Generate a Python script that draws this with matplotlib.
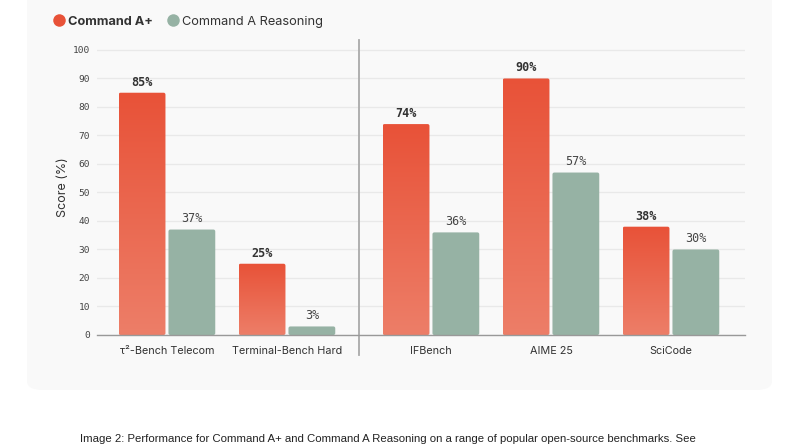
import numpy as np
import matplotlib.pyplot as plt
from matplotlib.patches import FancyBboxPatch
from matplotlib.lines import Line2D

categories = ['τ²-Bench Telecom', 'Terminal-Bench Hard', 'IFBench', 'AIME 25', 'SciCode']
command_a_plus = [85, 25, 74, 90, 38]
command_a_reasoning = [37, 3, 36, 57, 30]
series_names = ['Command A+', 'Command A Reasoning']
y_ticks = [0, 10, 20, 30, 40, 50, 60, 70, 80, 90, 100]

# second block of benchmarks sits a bit further right, past the divider
positions = [0, 1, 2.2, 3.2, 4.2]
divider_x = 1.6

RED_TOP = np.array([232, 82, 56]) / 255
RED_BOTTOM = np.array([237, 126, 104]) / 255
GREEN = '#96b2a4'
CARD = '#f9f9f9'

plt.rcParams['font.family'] = ['Inter', 'DejaVu Sans']

fig = plt.figure(figsize=(8, 4.45), dpi=100)
fig.patch.set_facecolor('white')

# light card behind the chart
card = FancyBboxPatch((27 / 800, 55 / 445), 745 / 800, 420 / 445,
                      boxstyle='round,pad=0,rounding_size=0.02',
                      transform=fig.transFigure, facecolor=CARD, edgecolor='none', zorder=-5)
fig.patches.append(card)

ax = fig.add_axes([97 / 800, 110 / 445, 648 / 800, 295 / 445])
ax.set_facecolor(CARD)
ax.set_xlim(-0.583, 4.817)
ax.set_ylim(0, 103.5)

bar_w = 0.39
gap = 0.0125
grad = np.linspace(0, 1, 256)[:, None, None]
grad_img = RED_BOTTOM * (1 - grad) + RED_TOP * grad

for x, a, b in zip(positions, command_a_plus, command_a_reasoning):
    # red bar with vertical gradient
    x0 = x - bar_w - gap
    p = FancyBboxPatch((x0, 0), bar_w, a, boxstyle='round,pad=0,rounding_size=0.015',
                       mutation_aspect=45, facecolor='none', edgecolor='none', zorder=3)
    ax.add_patch(p)
    im = ax.imshow(grad_img, extent=[x0, x0 + bar_w, 0, a], origin='lower',
                   aspect='auto', zorder=3)
    im.set_clip_path(p)
    ax.annotate(f'{a}%', (x - bar_w / 2 - gap, a), xytext=(0, 3), textcoords='offset points',
                ha='center', va='bottom', fontsize=8.5, fontweight='bold',
                family='DejaVu Sans Mono', color='#333333')

    x1 = x + gap
    g = FancyBboxPatch((x1, 0), bar_w, b, boxstyle='round,pad=0,rounding_size=0.015',
                       mutation_aspect=45, facecolor=GREEN, edgecolor='none', zorder=3)
    ax.add_patch(g)
    ax.annotate(f'{b}%', (x + bar_w / 2 + gap, b), xytext=(0, 3), textcoords='offset points',
                ha='center', va='bottom', fontsize=8.5, family='DejaVu Sans Mono',
                color='#444444')

ax.set_xticks(positions)
ax.set_xticklabels(categories, fontsize=7.8, color='#333333')
ax.set_yticks(y_ticks)
ax.set_yticklabels([str(t) for t in y_ticks], fontsize=6.8, family='DejaVu Sans Mono',
                   color='#444444')
ax.tick_params(axis='both', length=0, pad=8)
ax.tick_params(axis='y', pad=5)
ax.grid(axis='y', color='#e9e9e9', linewidth=0.9, zorder=0)
ax.set_axisbelow(True)
for s in ['top', 'right', 'left']:
    ax.spines[s].set_visible(False)
ax.spines['bottom'].set_color('#999999')
ax.spines['bottom'].set_linewidth(1)
ax.spines['bottom'].set_zorder(4)

ax.plot([divider_x, divider_x], [-7, 103.5], color='#aaaaaa', linewidth=1.3,
        clip_on=False, zorder=2)

ax.set_ylabel('Score (%)', fontsize=9, color='#333333', labelpad=3)

handles = [Line2D([], [], marker='o', linestyle='none', markersize=9,
                  markerfacecolor=RED_TOP, markeredgecolor='none'),
           Line2D([], [], marker='o', linestyle='none', markersize=9,
                  markerfacecolor=GREEN, markeredgecolor='none')]
leg = fig.legend(handles, series_names, loc='upper left', bbox_to_anchor=(40 / 800, 1 - 4 / 445),
                 ncol=2, frameon=False, fontsize=9.2, handletextpad=0.1, columnspacing=1.0,
                 handlelength=1.2)
leg.get_texts()[0].set_fontweight('bold')
for t in leg.get_texts():
    t.set_color('#333333')

fig.text(80 / 800, 1 / 445,
         'Image 2: Performance for Command A+ and Command A Reasoning on a range of popular '
         'open-source benchmarks. See',
         ha='left', va='bottom', fontsize=8.2, color='#222222',
         family=['Liberation Sans Narrow', 'Liberation Sans', 'DejaVu Sans'])

fig.savefig('out.png', dpi=100)
